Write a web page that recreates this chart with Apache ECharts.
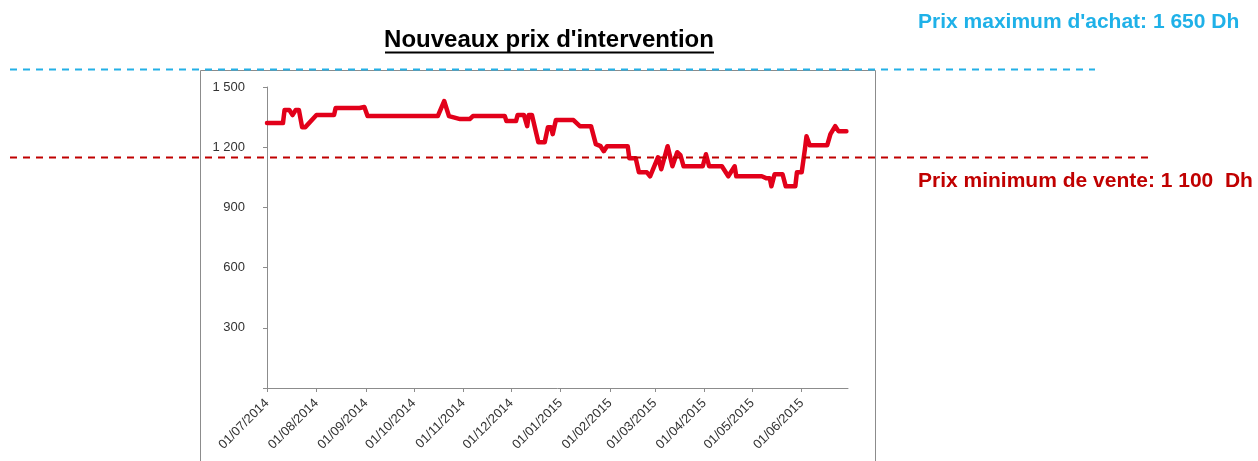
<!DOCTYPE html>
<html>
<head>
<meta charset="utf-8">
<script src="https://cdn.jsdelivr.net/npm/echarts@6/dist/echarts.min.js"></script>
<style>
html,body{margin:0;padding:0;background:#fff;}
#chart{width:1258px;height:461px;}
</style>
</head>
<body>
<div id="chart"></div>
<script>
var dates = [
'2014-07-01','2014-07-11','2014-07-12','2014-07-15','2014-07-17','2014-07-19','2014-07-21','2014-07-23','2014-07-25',
'2014-08-01','2014-08-12','2014-08-13','2014-08-28','2014-08-31','2014-09-02','2014-10-16','2014-10-20','2014-10-23',
'2014-10-30','2014-11-05','2014-11-07','2014-11-27','2014-11-28','2014-12-04','2014-12-05','2014-12-09','2014-12-11',
'2014-12-12','2014-12-14','2014-12-18','2014-12-22','2014-12-24','2014-12-26','2014-12-27','2014-12-29','2015-01-09',
'2015-01-13','2015-01-20','2015-01-23','2015-01-26','2015-01-28','2015-01-30','2015-02-12','2015-02-13','2015-02-17',
'2015-02-19','2015-02-24','2015-02-26','2015-03-03','2015-03-05','2015-03-09','2015-03-12','2015-03-15','2015-03-17',
'2015-03-19','2015-03-31','2015-04-02','2015-04-04','2015-04-12','2015-04-16','2015-04-20','2015-04-21','2015-05-07',
'2015-05-10','2015-05-12','2015-05-13','2015-05-15','2015-05-20','2015-05-22','2015-05-28','2015-05-29','2015-06-01',
'2015-06-03','2015-06-04','2015-06-06','2015-06-17','2015-06-19','2015-06-22','2015-06-24','2015-06-29'
];
var prices = [
1320,1320,1385,1385,1360,1385,1385,1300,1300,
1360,1360,1395,1395,1400,1355,1355,1430,1355,
1340,1340,1355,1355,1330,1330,1360,1360,1305,
1360,1360,1225,1225,1300,1300,1265,1335,1335,
1305,1305,1215,1205,1180,1205,1205,1145,1145,
1075,1075,1055,1150,1090,1205,1105,1175,1160,
1105,1105,1165,1105,1105,1055,1105,1055,1055,
1045,1045,1005,1065,1065,1005,1005,1075,1075,
1190,1255,1210,1210,1265,1305,1280,1280
];
var yTicks = [0, 300, 600, 900, 1200, 1500];
var titleText = "Nouveaux prix d'intervention";
var maxLabel = "Prix maximum d'achat: 1 650 Dh";
var minLabel = "Prix minimum de vente: 1 100  Dh";

var seriesData = dates.map(function (d, i) { return [d, prices[i]]; });

function pad(n) { return (n < 10 ? '0' : '') + n; }
function fmtThousands(v) {
  var s = String(v);
  return s.length > 3 ? s.slice(0, s.length - 3) + ' ' + s.slice(-3) : s;
}

var chart = echarts.init(document.getElementById('chart'));
var DAY = 86400000;
chart.setOption({
  animation: false,
  grid: { left: 267, right: 410, top: 87, bottom: 73, containLabel: false },
  xAxis: {
    type: 'time',
    min: '2014-07-01',
    max: '2015-06-30',
    minInterval: 28 * DAY,
    maxInterval: 31 * DAY,
    splitLine: { show: false },
    axisLine: { lineStyle: { color: '#8c8c8c', width: 1 } },
    axisTick: { show: true, length: 4, lineStyle: { color: '#8c8c8c' } },
    minorTick: { show: false },
    axisLabel: {
      rotate: 45,
      margin: 13,
      color: '#333',
      fontSize: 13,
      fontFamily: 'Liberation Sans, Arial, sans-serif',
      hideOverlap: false,
      showMaxLabel: false,
      formatter: function (val) {
        var d = new Date(val);
        return pad(d.getDate()) + '/' + pad(d.getMonth() + 1) + '/' + d.getFullYear();
      }
    }
  },
  yAxis: {
    type: 'value',
    min: yTicks[0],
    max: yTicks[yTicks.length - 1],
    interval: 300,
    splitLine: { show: false },
    axisLine: { show: true, lineStyle: { color: '#8c8c8c', width: 1 } },
    axisTick: { show: true, length: 4, lineStyle: { color: '#8c8c8c' } },
    axisLabel: {
      margin: 22,
      color: '#333',
      fontSize: 13,
      fontFamily: 'Liberation Sans, Arial, sans-serif',
      formatter: function (v) { return v === 0 ? '' : fmtThousands(v); }
    }
  },
  series: [{
    type: 'line',
    data: seriesData,
    showSymbol: false,
    symbol: 'none',
    lineStyle: { color: '#e2001a', width: 4.5, join: 'round', cap: 'round' },
    z: 3
  }],
  graphic: [
    { type: 'rect', shape: { x: 200.5, y: 70.5, width: 675, height: 420 }, style: { fill: 'none', stroke: '#8c8c8c', lineWidth: 1 }, z: 1 },
    { type: 'line', shape: { x1: 10, y1: 69.5, x2: 1095, y2: 69.5 }, style: { stroke: '#23b0e6', lineWidth: 2, lineDash: [7, 6] }, z: 5 },
    { type: 'line', shape: { x1: 10, y1: 157.5, x2: 1150, y2: 157.5 }, style: { stroke: '#c00000', lineWidth: 2, lineDash: [7, 6] }, z: 5 },
    { type: 'text', x: 549, y: 40, style: { text: titleText, fill: '#000', font: 'bold 24px "Liberation Sans", Arial, sans-serif', textAlign: 'center', textVerticalAlign: 'middle' }, z: 5 },
    { type: 'line', shape: { x1: 385, y1: 52.5, x2: 714, y2: 52.5 }, style: { stroke: '#000', lineWidth: 2 }, z: 5 },
    { type: 'text', x: 918, y: 22, style: { text: maxLabel, fill: '#1fb1e8', font: 'bold 21px "Liberation Sans", Arial, sans-serif', textAlign: 'left', textVerticalAlign: 'middle' }, z: 5 },
    { type: 'text', x: 918, y: 181, style: { text: minLabel, fill: '#c00000', font: 'bold 21px "Liberation Sans", Arial, sans-serif', textAlign: 'left', textVerticalAlign: 'middle' }, z: 5 }
  ]
});
</script>
</body>
</html>
